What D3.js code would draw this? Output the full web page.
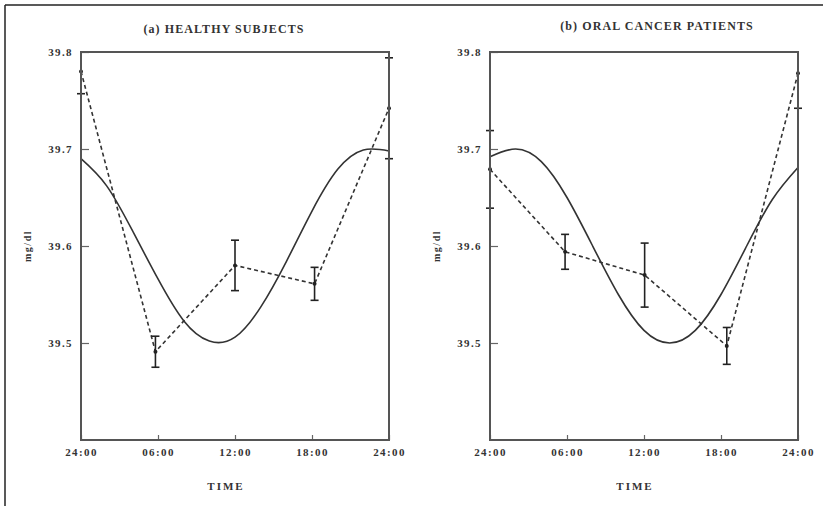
<!DOCTYPE html>
<html lang="en">
<head>
    <meta charset="UTF-8">
    <title>Circadian rhythm - mg/dl</title>
    <script src="https://d3js.org/d3.v7.min.js"></script>
    <style>
        body { margin: 0; background: #fff; }
        text { font-family: "Liberation Serif", "DejaVu Serif", serif; font-weight: bold; fill: #333; }
        .frame { fill: none; stroke: #555; stroke-width: 2px; }
        .fit { fill: none; stroke: #333; stroke-width: 1.6px; }
        .obs { fill: none; stroke: #333; stroke-width: 1.6px; stroke-dasharray: 4 3; }
        .err { stroke: #222; stroke-width: 1.6px; }
    </style>
</head>
<body>
<div id="chart"></div>
<script>
    // observed means (dashed) and SE bars, hours from 24:00
    const obsHoursA = [0, 5.8, 12.0, 18.2, 24];
    const obsMeanA = [39.780, 39.491, 39.580, 39.561, 39.742];
    const obsErrA = [0.023, 0.016, 0.026, 0.017, 0.052];

    const obsHoursB = [0, 5.85, 12.05, 18.45, 24];
    const obsMeanB = [39.679, 39.594, 39.570, 39.497, 39.778];
    const obsErrB = [0.040, 0.018, 0.033, 0.019, 0.036];

    const fitHours = [0, 2, 4, 6, 8, 10, 12, 14, 16, 18, 20, 22, 24];
    const fitA = [39.690, 39.662, 39.616, 39.566, 39.523, 39.502, 39.506, 39.537, 39.584, 39.636, 39.679, 39.699, 39.698];
    const fitB = [39.692, 39.700, 39.687, 39.650, 39.600, 39.550, 39.513, 39.500, 39.513, 39.550, 39.600, 39.648, 39.681];

    const yTicks = [39.5, 39.6, 39.7, 39.8];
    const xTicks = [0, 6, 12, 18, 24];
    const xTickLabels = ["24:00", "06:00", "12:00", "18:00", "24:00"];

    const panels = [
        { title: "(a) HEALTHY SUBJECTS", titleX: 224, titleY: 33, left: 81, right: 389,
          hours: obsHoursA, mean: obsMeanA, err: obsErrA, fit: fitA },
        { title: "(b) ORAL CANCER PATIENTS", titleX: 657, titleY: 30, left: 490, right: 798,
          hours: obsHoursB, mean: obsMeanB, err: obsErrB, fit: fitB }
    ];

    const width = 838, height = 506;
    const plotTop = 52, plotBottom = 440;

    const svg = d3.select("#chart").append("svg")
        .attr("width", width)
        .attr("height", height);

    // outer border (left and top only, like the scan)
    svg.append("line").attr("x1", 5).attr("y1", 5).attr("x2", 823).attr("y2", 5)
        .attr("stroke", "#222").attr("stroke-width", 1.5);
    svg.append("line").attr("x1", 5).attr("y1", 5).attr("x2", 5).attr("y2", height)
        .attr("stroke", "#222").attr("stroke-width", 1.5);

    const y = d3.scaleLinear().domain([39.4, 39.8]).range([plotBottom, plotTop]);

    panels.forEach((p, i) => {
        const x = d3.scaleLinear().domain([0, 24]).range([p.left, p.right]);
        const g = svg.append("g");

        g.append("clipPath").attr("id", "clip" + i)
            .append("rect").attr("x", p.left - 10).attr("y", plotTop)
            .attr("width", p.right - p.left + 20).attr("height", plotBottom - plotTop);

        // title
        g.append("text")
            .attr("x", p.titleX)
            .attr("y", p.titleY)
            .attr("text-anchor", "middle")
            .attr("font-size", 12)
            .attr("letter-spacing", 1.1)
            .text(p.title);

        // y axis
        const yAxis = d3.axisLeft(y).tickValues(yTicks).tickSizeInner(-8).tickSizeOuter(0)
            .tickPadding(8).tickFormat(d3.format(".1f"));
        const ya = g.append("g").attr("transform", `translate(${p.left},0)`).call(yAxis);
        ya.select(".domain").remove();
        ya.selectAll("line").attr("stroke", "#666").attr("stroke-width", 1.2);
        ya.selectAll("text").attr("font-size", 11).attr("letter-spacing", 1.4)
            .attr("font-family", "Liberation Serif").attr("fill", "#333");

        // x axis
        const xAxis = d3.axisBottom(x).tickValues(xTicks).tickSizeInner(-5).tickSizeOuter(0)
            .tickPadding(8).tickFormat((d, k) => xTickLabels[k]);
        const xa = g.append("g").attr("transform", `translate(0,${plotBottom})`).call(xAxis);
        xa.select(".domain").remove();
        xa.selectAll("line").attr("stroke", "#666").attr("stroke-width", 1.2);
        xa.selectAll("text").attr("font-size", 11).attr("letter-spacing", 1.4)
            .attr("font-family", "Liberation Serif").attr("fill", "#333");

        // axis titles
        g.append("text")
            .attr("transform", `translate(${p.left - 50},${(plotTop + plotBottom) / 2}) rotate(-90)`)
            .attr("text-anchor", "middle")
            .attr("font-size", 10)
            .attr("letter-spacing", 1.5)
            .text("mg/dl");
        g.append("text")
            .attr("x", (p.left + p.right) / 2 - 9)
            .attr("y", 490)
            .attr("text-anchor", "middle")
            .attr("font-size", 11)
            .attr("letter-spacing", 2)
            .text("TIME");

        // fitted curve
        const fitLine = d3.line()
            .x((d, k) => x(fitHours[k]))
            .y(d => y(d))
            .curve(d3.curveNatural);
        g.append("path").datum(p.fit).attr("class", "fit").attr("d", fitLine);

        // observed means
        const obsLine = d3.line()
            .x((d, k) => x(p.hours[k]))
            .y(d => y(d));
        g.append("path").datum(p.mean).attr("class", "obs").attr("d", obsLine);

        // error bars
        const bars = g.append("g").attr("clip-path", `url(#clip${i})`)
            .selectAll("g").data(p.mean).join("g");
        bars.append("line").attr("class", "err")
            .attr("x1", (d, k) => x(p.hours[k])).attr("x2", (d, k) => x(p.hours[k]))
            .attr("y1", (d, k) => y(d + p.err[k])).attr("y2", (d, k) => y(d - p.err[k]));
        [1, -1].forEach(s => {
            bars.append("line").attr("class", "err")
                .attr("x1", (d, k) => x(p.hours[k]) - 4).attr("x2", (d, k) => x(p.hours[k]) + 4)
                .attr("y1", (d, k) => y(d + s * p.err[k])).attr("y2", (d, k) => y(d + s * p.err[k]));
        });
        g.append("g").selectAll("circle").data(p.mean).join("circle")
            .attr("cx", (d, k) => x(p.hours[k]))
            .attr("cy", d => y(d))
            .attr("r", 2)
            .attr("fill", "#222");

        // frame
        g.append("rect").attr("class", "frame")
            .attr("x", p.left).attr("y", plotTop)
            .attr("width", p.right - p.left).attr("height", plotBottom - plotTop);
    });
</script>
</body>
</html>
